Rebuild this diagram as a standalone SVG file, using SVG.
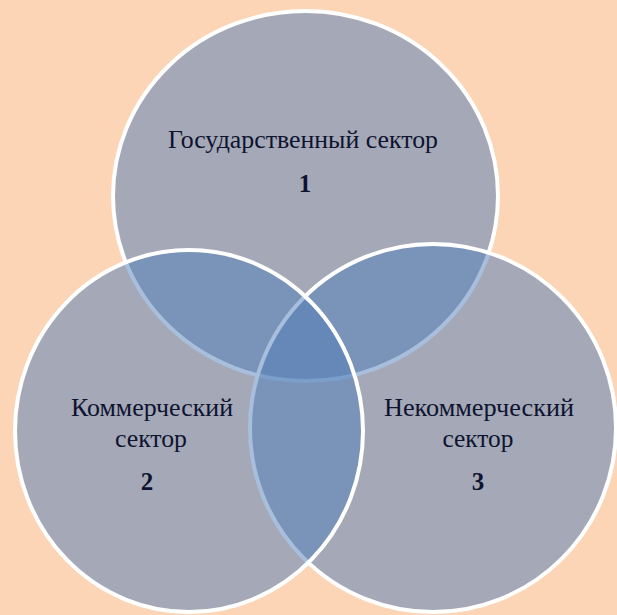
<svg xmlns="http://www.w3.org/2000/svg" width="617" height="615" viewBox="0 0 617 615">
<style>
.c{fill:#4F7DB9;fill-opacity:0.5;stroke:#FFFFFF;stroke-width:4}
.t{font-family:"Liberation Serif","Times New Roman",serif;font-size:26px;fill:#0E1330;text-anchor:middle}
.n{font-family:"Liberation Serif","Times New Roman",serif;font-size:25px;font-weight:bold;fill:#0E1330;text-anchor:middle}
</style>
<rect width="617" height="615" fill="#FBD5B5"/>
<g id="node1">
<ellipse class="c" cx="305.5" cy="196" rx="192.5" ry="185"/>
<text class="t" x="303" y="148" textLength="270" lengthAdjust="spacingAndGlyphs">Государственный сектор</text>
<text class="n" x="305" y="192">1</text>
</g>
<g id="node3">
<ellipse class="c" cx="433" cy="428" rx="183" ry="184"/>
<text class="t" x="479" y="416" textLength="190" lengthAdjust="spacingAndGlyphs">Некоммерческий</text>
<text class="t" x="478" y="447" textLength="71" lengthAdjust="spacingAndGlyphs">сектор</text>
<text class="n" x="478" y="490">3</text>
</g>
<g id="node2">
<ellipse class="c" cx="189" cy="431" rx="174" ry="181"/>
<text class="t" x="152" y="416" textLength="162" lengthAdjust="spacingAndGlyphs">Коммерческий</text>
<text class="t" x="151" y="447" textLength="72" lengthAdjust="spacingAndGlyphs">сектор</text>
<text class="n" x="147" y="490">2</text>
</g>
<g id="connectors"/>
</svg>
